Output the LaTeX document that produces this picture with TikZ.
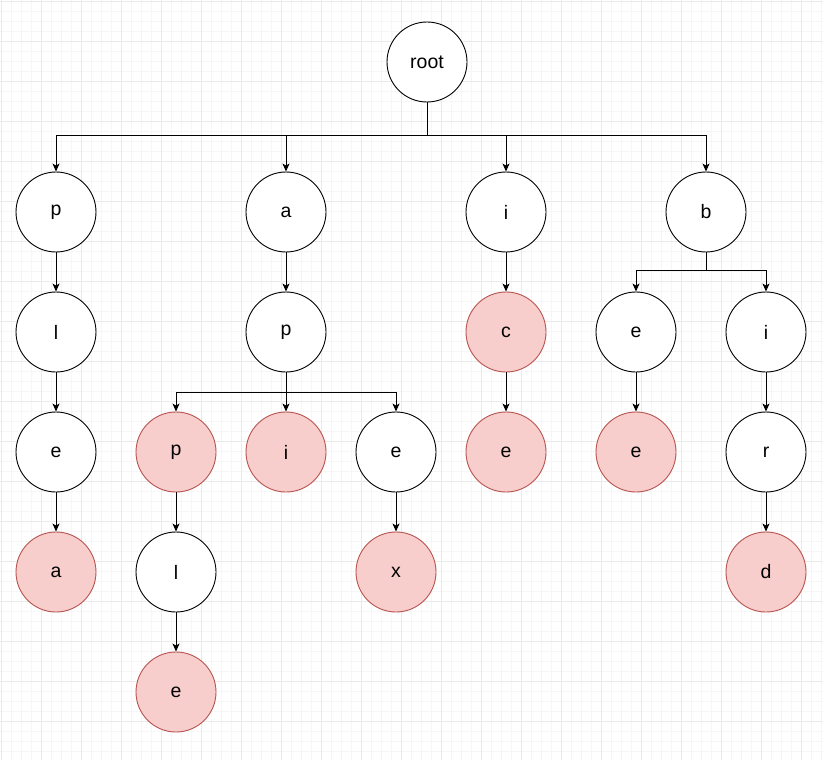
\documentclass[tikz,border=0pt]{standalone}
\usepackage{fontspec}
\setmainfont{Liberation Sans}
\usetikzlibrary{arrows.meta}
\definecolor{pinkfill}{HTML}{F8CECC}
\definecolor{pinkline}{HTML}{B85450}
\definecolor{gridminor}{HTML}{F6F6F6}
\definecolor{gridmajor}{HTML}{EAEAEA}
\tikzset{
  nd/.style={circle, draw=black, line width=0.9pt, fill=white, minimum size=80pt, inner sep=0pt, font=\fontsize{19.5}{22}\selectfont},
  hl/.style={nd, draw=pinkline, fill=pinkfill},
  conn/.style={line width=0.9pt, -{Stealth[length=8pt,width=7pt,inset=2pt]}},
  bus/.style={line width=0.9pt}
}
\begin{document}
\begin{tikzpicture}[x=1pt,y=-1pt]
\useasboundingbox (0,0) rectangle (823,760);
\fill[white] (0,0) rectangle (823,760);
\foreach \i in {0,...,82} {\draw[gridminor, line width=0.6pt] (\i*10+1,0) -- (\i*10+1,760);}
\foreach \i in {0,...,76} {\draw[gridminor, line width=0.6pt] (0,\i*10+1) -- (823,\i*10+1);}
\foreach \i in {0,...,20} {\draw[gridmajor, line width=0.8pt] (\i*40+1,0) -- (\i*40+1,760);}
\foreach \i in {0,...,19} {\draw[gridmajor, line width=0.8pt] (0,\i*40+1) -- (823,\i*40+1);}

\node[nd] (root) at (427,62) {root};
% column p
\node[nd] (p1) at (56,212) {p};
\node[nd] (l1) at (56,332) {l};
\node[nd] (e1) at (56,452) {e};
\node[hl] (a1) at (56,572) {a};
% column a
\node[nd] (a2) at (286,212) {a};
\node[nd] (p2) at (286,332) {p};
\node[hl] (p3) at (176,452) {p};
\node[nd] (l3) at (176,572) {l};
\node[hl] (e3) at (176,692) {e};
\node[hl] (i3) at (286,452) {i};
\node[nd] (e4) at (396,452) {e};
\node[hl] (x4) at (396,572) {x};
% column i
\node[nd] (i5) at (506,212) {i};
\node[hl] (c5) at (506,332) {c};
\node[hl] (e5) at (506,452) {e};
% column b
\node[nd] (b6) at (706,212) {b};
\node[nd] (e6) at (636,332) {e};
\node[hl] (e7) at (636,452) {e};
\node[nd] (i8) at (766,332) {i};
\node[nd] (r8) at (766,452) {r};
\node[hl] (d8) at (766,572) {d};

% root bus
\coordinate (rb) at (427,135);
\draw[bus] (root.south) -- (rb);
\foreach \n in {p1,a2,i5,b6} {\draw[conn] (rb) -| (\n.north);}
% chains
\draw[conn] (p1) -- (l1);
\draw[conn] (l1) -- (e1);
\draw[conn] (e1) -- (a1);
\draw[conn] (a2) -- (p2);
\draw[conn] (p3) -- (l3);
\draw[conn] (l3) -- (e3);
\draw[conn] (e4) -- (x4);
\draw[conn] (i5) -- (c5);
\draw[conn] (c5) -- (e5);
\draw[conn] (e6) -- (e7);
\draw[conn] (i8) -- (r8);
\draw[conn] (r8) -- (d8);
% p2 bus
\coordinate (pb) at (286,392);
\draw[bus] (p2.south) -- (pb);
\foreach \n in {p3,i3,e4} {\draw[conn] (pb) -| (\n.north);}
% b bus
\coordinate (bb) at (706,270);
\draw[bus] (b6.south) -- (bb);
\foreach \n in {e6,i8} {\draw[conn] (bb) -| (\n.north);}
\end{tikzpicture}
\end{document}
